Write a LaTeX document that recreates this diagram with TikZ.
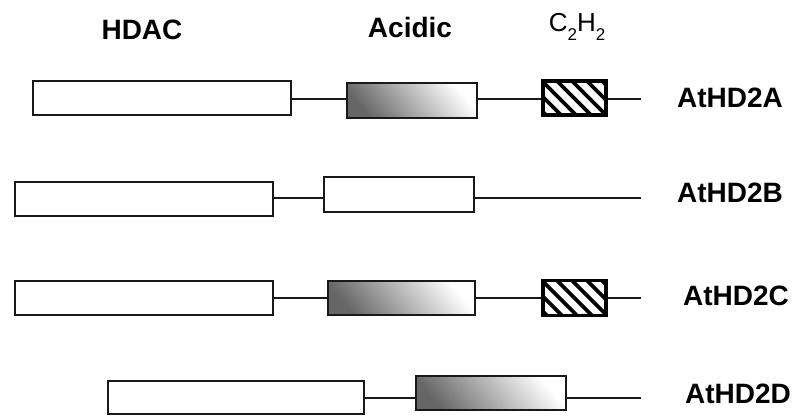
\documentclass[tikz,border=0pt]{standalone}
\usepackage{fontspec}
\setmainfont{Liberation Sans}
\newcommand{\zsub}[1]{\raisebox{-9pt}{\fontsize{17}{17}\selectfont #1}}
\begin{document}
\begin{tikzpicture}[x=1pt,y=-1pt,
  dom/.style={draw=black!90,line width=1.9pt,inner sep=0pt,outer sep=0pt,rectangle},
  hdacbox/.style={dom,fill=white},
  acidw/.style={dom,fill=white},
  acidg/.style={dom,top color=white,bottom color=black!60,shading angle=-50},
  zinc/.style={dom,line width=3.4pt,draw=black,fill=white},
  linkline/.style={line width=1.5pt,black!90},
  hdrtext/.style={font=\bfseries\fontsize{28}{30}\selectfont,anchor=base,inner sep=0pt},
  protname/.style={font=\bfseries\fontsize{28}{30}\selectfont,anchor=base west,inner sep=0pt},
  stripe/.style={line width=3.8pt,black}
]
\useasboundingbox (0,0) rectangle (796,417);

% headers
\node[hdrtext] (hHDAC) at (142,40) {HDAC};
\node[hdrtext] (hAcid) at (410,38) {Acidic};
\node[anchor=base,inner sep=0pt,font=\fontsize{26}{28}\selectfont] (hZn) at (577,32) {C\zsub{2}H\zsub{2}};

% Row A
\node[hdacbox,minimum width=258pt,minimum height=34pt] (a1) at (162,98) {};
\node[acidg,minimum width=130pt,minimum height=35pt] (a2) at (412,100.5) {};
\node[zinc,minimum width=63pt,minimum height=34pt] (a3) at (574.5,98) {};
\coordinate (aend) at (641,99);
\draw[linkline] (a1.east |- aend) -- (a2.west |- aend);
\draw[linkline] (a2.east |- aend) -- (a3.west |- aend);
\draw[linkline] (a3.east |- aend) -- (aend);
\node[protname] (la) at (677,108) {AtHD2A};

% Row B
\node[hdacbox,minimum width=258pt,minimum height=34pt] (b1) at (144,199) {};
\node[acidw,minimum width=150pt,minimum height=35pt] (b2) at (399,194.5) {};
\coordinate (bend) at (641,198);
\draw[linkline] (b1.east |- bend) -- (b2.west |- bend);
\draw[linkline] (b2.east |- bend) -- (bend);
\node[protname] (lb) at (677,203) {AtHD2B};

% Row C
\node[hdacbox,minimum width=258pt,minimum height=34pt] (c1) at (144,298) {};
\node[acidg,minimum width=147pt,minimum height=34pt] (c2) at (401.5,298) {};
\node[zinc,minimum width=63pt,minimum height=35pt] (c3) at (574.5,298) {};
\coordinate (cend) at (641,298);
\draw[linkline] (c1.east) -- (c2.west);
\draw[linkline] (c2.east) -- (c3.west);
\draw[linkline] (c3.east) -- (cend);
\node[protname] (lc) at (683,305) {AtHD2C};

% Row D
\node[hdacbox,minimum width=256pt,minimum height=33pt] (d1) at (236,397.5) {};
\node[acidg,minimum width=150pt,minimum height=34pt] (d2) at (491,393) {};
\coordinate (dend) at (641,398);
\draw[linkline] (d1.east |- dend) -- (d2.west |- dend);
\draw[linkline] (d2.east |- dend) -- (dend);
\node[protname] (ld) at (685,403) {AtHD2D};

% hatching of the C2H2 boxes
\foreach \h in {a3,c3}{
  \begin{scope}
    \clip (\h.north west) rectangle (\h.south east);
    \foreach \k in {-46,-31,...,70}{
      \draw[stripe] ([xshift=\k pt]\h.north west) -- ++(45,45);
    }
  \end{scope}
  \draw[line width=3.4pt] (\h.north west) rectangle (\h.south east);
}
\end{tikzpicture}
\end{document}
